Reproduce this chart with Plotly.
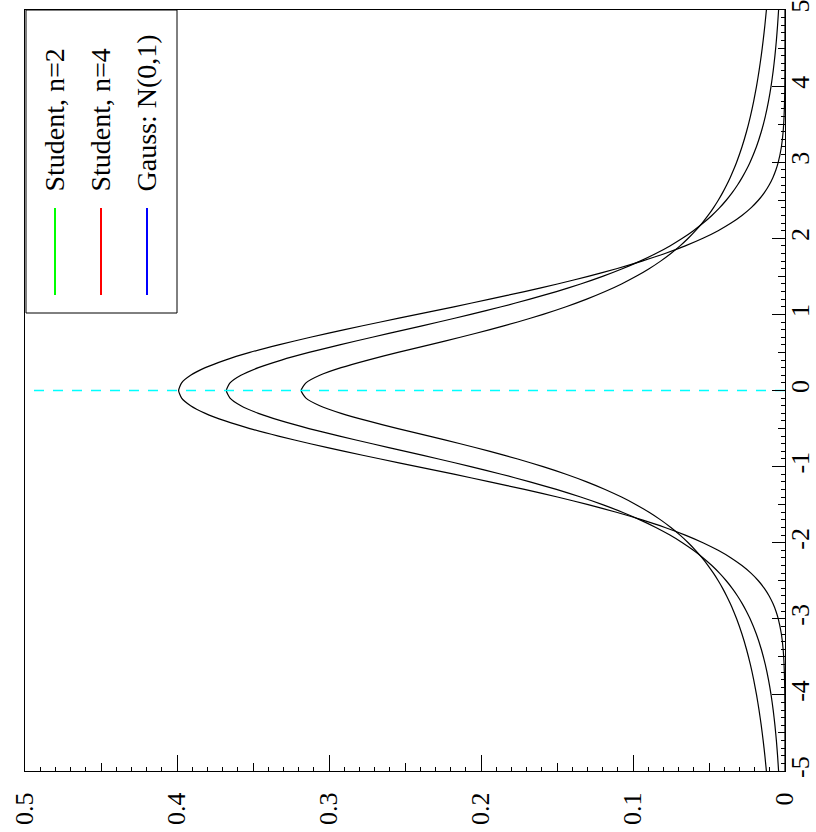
import plotly.graph_objects as go

# ---- data ----
x_vals = [-5.0, -4.8, -4.6, -4.4, -4.2, -4.0, -3.8, -3.6, -3.4, -3.2,
          -3.0, -2.9, -2.8, -2.7, -2.6, -2.5, -2.4, -2.3, -2.2, -2.1,
          -2.0, -1.9, -1.8, -1.7, -1.6, -1.5, -1.4, -1.3, -1.2, -1.1,
          -1.0, -0.9, -0.8, -0.7, -0.6, -0.5, -0.4, -0.3, -0.2, -0.1,
          0.0,
          0.1, 0.2, 0.3, 0.4, 0.5, 0.6, 0.7, 0.8, 0.9, 1.0,
          1.1, 1.2, 1.3, 1.4, 1.5, 1.6, 1.7, 1.8, 1.9, 2.0,
          2.1, 2.2, 2.3, 2.4, 2.5, 2.6, 2.7, 2.8, 2.9, 3.0,
          3.2, 3.4, 3.6, 3.8, 4.0, 4.2, 4.4, 4.6, 4.8, 5.0]

student_n2 = [0.01224, 0.01324, 0.01436, 0.01563, 0.01708, 0.01872, 0.02062, 0.02280, 0.02534, 0.02832,
              0.03183, 0.03383, 0.03601, 0.03840, 0.04102, 0.04391, 0.04709, 0.05061, 0.05451, 0.05884,
              0.06366, 0.06905, 0.07507, 0.08183, 0.08941, 0.09794, 0.10754, 0.11833, 0.13046, 0.14403,
              0.15915, 0.17586, 0.19409, 0.21363, 0.23405, 0.25465, 0.27441, 0.29203, 0.30607, 0.31516,
              0.31831,
              0.31516, 0.30607, 0.29203, 0.27441, 0.25465, 0.23405, 0.21363, 0.19409, 0.17586, 0.15915,
              0.14403, 0.13046, 0.11833, 0.10754, 0.09794, 0.08941, 0.08183, 0.07507, 0.06905, 0.06366,
              0.05884, 0.05451, 0.05061, 0.04709, 0.04391, 0.04102, 0.03840, 0.03601, 0.03383, 0.03183,
              0.02832, 0.02534, 0.02280, 0.02062, 0.01872, 0.01708, 0.01563, 0.01436, 0.01324, 0.01224]

student_n4 = [0.00422, 0.00488, 0.00567, 0.00662, 0.00777, 0.00916, 0.01088, 0.01299, 0.01560, 0.01887,
              0.02297, 0.02541, 0.02815, 0.03124, 0.03473, 0.03866, 0.04311, 0.04813, 0.05382, 0.06025,
              0.06751, 0.07571, 0.08496, 0.09535, 0.10701, 0.12002, 0.13446, 0.15039, 0.16780, 0.18664,
              0.20675, 0.22788, 0.24967, 0.27159, 0.29301, 0.31318, 0.33128, 0.34646, 0.35795, 0.36512,
              0.36755,
              0.36512, 0.35795, 0.34646, 0.33128, 0.31318, 0.29301, 0.27159, 0.24967, 0.22788, 0.20675,
              0.18664, 0.16780, 0.15039, 0.13446, 0.12002, 0.10701, 0.09535, 0.08496, 0.07571, 0.06751,
              0.06025, 0.05382, 0.04813, 0.04311, 0.03866, 0.03473, 0.03124, 0.02815, 0.02541, 0.02297,
              0.01887, 0.01560, 0.01299, 0.01088, 0.00916, 0.00777, 0.00662, 0.00567, 0.00488, 0.00422]

gauss = [0.00000, 0.00000, 0.00001, 0.00003, 0.00006, 0.00013, 0.00029, 0.00061, 0.00123, 0.00238,
         0.00443, 0.00595, 0.00792, 0.01042, 0.01358, 0.01753, 0.02239, 0.02833, 0.03547, 0.04398,
         0.05399, 0.06562, 0.07895, 0.09405, 0.11092, 0.12952, 0.14973, 0.17137, 0.19419, 0.21785,
         0.24197, 0.26609, 0.28969, 0.31225, 0.33322, 0.35207, 0.36827, 0.38139, 0.39104, 0.39695,
         0.39894,
         0.39695, 0.39104, 0.38139, 0.36827, 0.35207, 0.33322, 0.31225, 0.28969, 0.26609, 0.24197,
         0.21785, 0.19419, 0.17137, 0.14973, 0.12952, 0.11092, 0.09405, 0.07895, 0.06562, 0.05399,
         0.04398, 0.03547, 0.02833, 0.02239, 0.01753, 0.01358, 0.01042, 0.00792, 0.00595, 0.00443,
         0.00238, 0.00123, 0.00061, 0.00029, 0.00013, 0.00006, 0.00003, 0.00001, 0.00000, 0.00000]

series_names = ["Student, n=2", "Student, n=4", "Gauss: N(0,1)"]
legend_colors = ["#00ff00", "#ff0000", "#0000ff"]

marker_x = [0.0, 0.0]          # dashed vertical marker at x = 0
marker_pdf = [0.0, 0.5]

x_tick_vals = [-5, -4, -3, -2, -1, 0, 1, 2, 3, 4, 5]
x_tick_text = ["-5", "-4", "-3", "-2", "-1", "0", "1", "2", "3", "4", "5"]
pdf_tick_vals = [0, 0.1, 0.2, 0.3, 0.4, 0.5]
pdf_tick_text = ["0", "0.1", "0.2", "0.3", "0.4", "0.5"]

# ---- layout geometry (pixels) ----
W, H = 816, 832
L, R, T, B = 25, 785, 10, 771
FONT = "Liberation Serif"


def px(xp):
    return (xp - L) / (R - L)


def py(yp):
    return (B - yp) / (B - T)


fig = go.Figure()
for series in (student_n2, student_n4, gauss):
    fig.add_trace(go.Scatter(x=series, y=x_vals, mode="lines",
                             line=dict(color="black", width=1.2, shape="spline", smoothing=0.6),
                             showlegend=False, hoverinfo="skip"))

fig.add_trace(go.Scatter(x=marker_pdf, y=marker_x, mode="lines",
                         line=dict(color="#00ffff", width=1.6, dash="10px,9px"),
                         showlegend=False, hoverinfo="skip"))

# empty trace for overlay axes (medium ticks)
fig.add_trace(go.Scatter(x=[None], y=[None], xaxis="x2", yaxis="y2",
                         showlegend=False, hoverinfo="skip"))

common = dict(showgrid=False, zeroline=False, showline=True, linecolor="black",
              linewidth=1, ticks="inside", tickcolor="black", tickwidth=1,
              tickfont=dict(family=FONT, size=26, color="black"), tickangle=-90,
              automargin=False, ticklabeloverflow="allow")

fig.update_layout(
    width=W, height=H,
    margin=dict(l=L, r=W - R, t=T, b=H - B, pad=0, autoexpand=False),
    paper_bgcolor="white", plot_bgcolor="white",
    xaxis=dict(range=[0.5, 0], tickmode="array", tickvals=pdf_tick_vals,
               ticktext=pdf_tick_text, ticklen=16, mirror=True,
               ticklabelstandoff=10,
               minor=dict(dtick=0.01, tick0=0, ticklen=4, ticks="inside",
                          tickcolor="black", showgrid=False),
               **common),
    yaxis=dict(range=[-5, 5], side="right", tickmode="array", tickvals=x_tick_vals,
               ticktext=x_tick_text, ticklen=13, mirror=True,
               ticklabelstandoff=-8,
               minor=dict(dtick=0.1, tick0=0, ticklen=4, ticks="inside",
                          tickcolor="black", showgrid=False),
               **common),
    xaxis2=dict(range=[0.5, 0], overlaying="x", anchor="y", side="bottom",
                showgrid=False, zeroline=False, showline=False, ticks="inside",
                dtick=0.05, tick0=0, ticklen=8, tickcolor="black",
                showticklabels=False, automargin=False),
    yaxis2=dict(range=[-5, 5], overlaying="y", anchor="x", side="right",
                showgrid=False, zeroline=False, showline=False, ticks="inside",
                dtick=0.5, tick0=0, ticklen=7, tickcolor="black",
                showticklabels=False, automargin=False),
)

# legend box built by hand (rotated entries)
shapes = [dict(type="rect", xref="paper", yref="paper",
               x0=px(26), x1=px(177), y0=py(313), y1=py(10),
               line=dict(color="black", width=1), fillcolor="white", layer="above")]
annotations = []
entry_x = [55, 101, 147]
for name, col, ex in zip(series_names, legend_colors, entry_x):
    shapes.append(dict(type="line", xref="paper", yref="paper",
                       x0=px(ex), x1=px(ex), y0=py(295), y1=py(208),
                       line=dict(color=col, width=2), layer="above"))
    annotations.append(dict(text=name, xref="paper", yref="paper",
                            x=px(ex - 1), y=py(194), xanchor="center", yanchor="bottom",
                            textangle=-90, showarrow=False,
                            font=dict(family=FONT, size=28, color="black")))

fig.update_layout(shapes=shapes, annotations=annotations)

fig.write_html("out.html")
